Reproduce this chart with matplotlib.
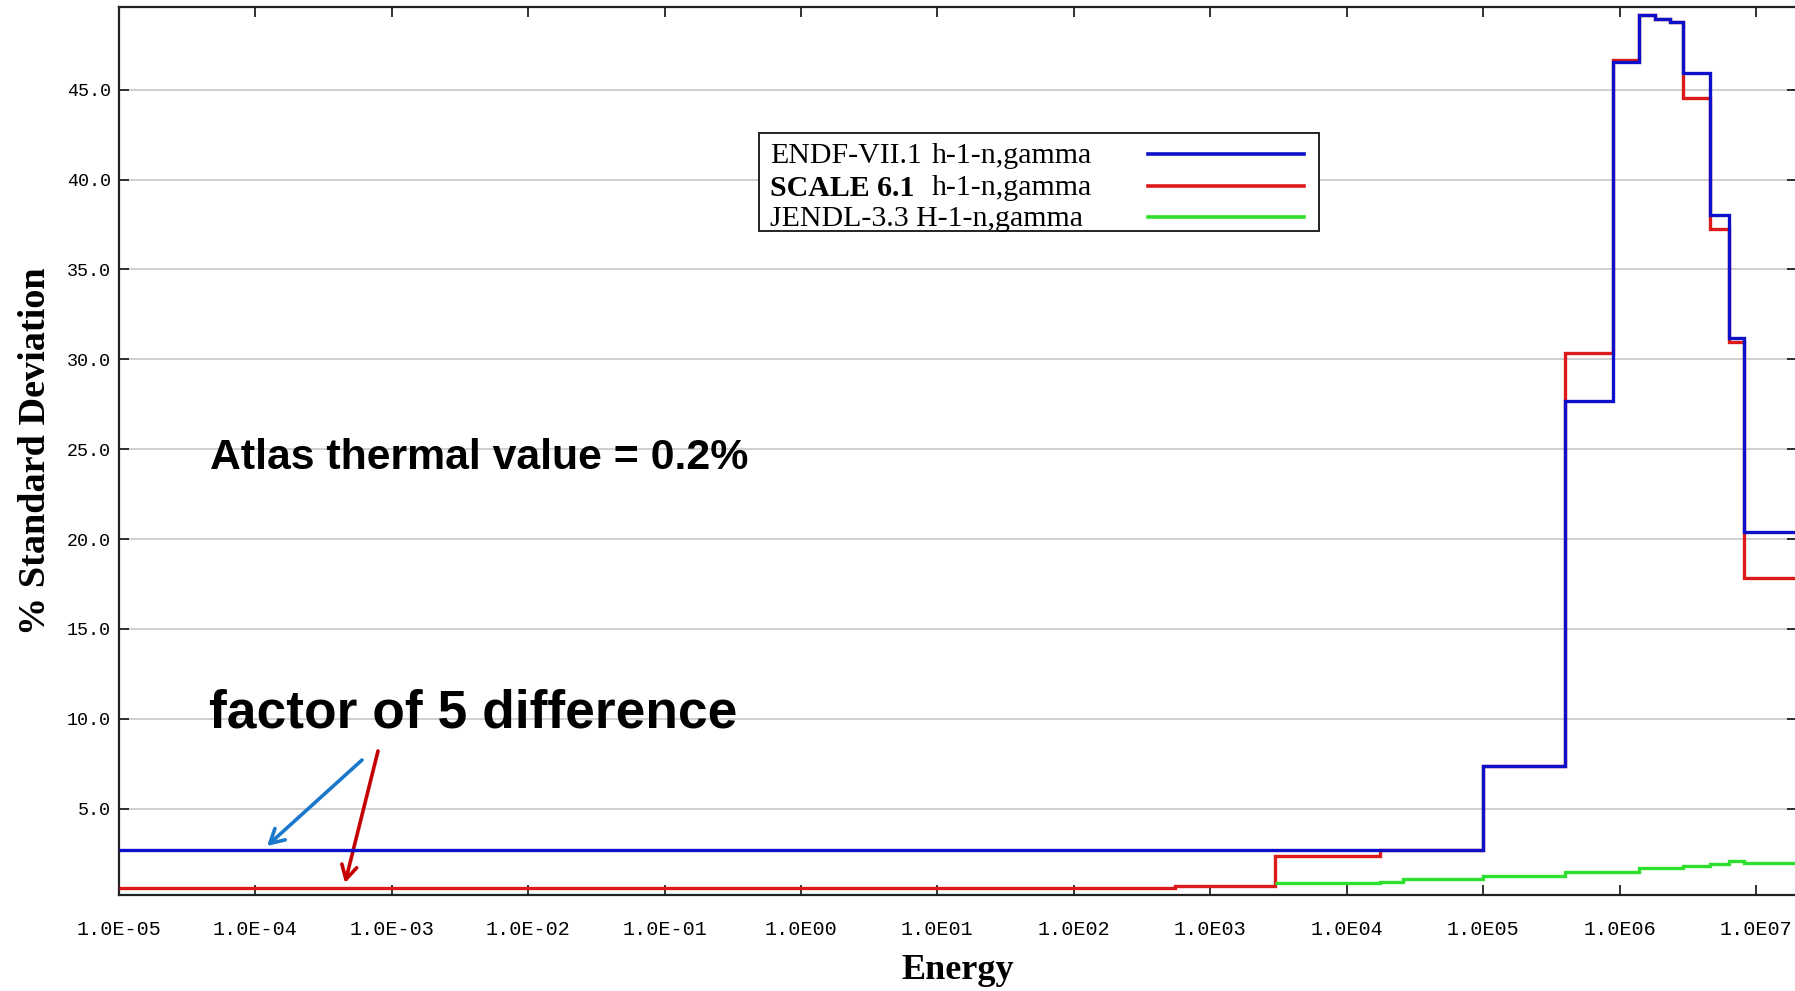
import matplotlib
matplotlib.use("Agg")
import matplotlib.pyplot as plt
from matplotlib.lines import Line2D
from matplotlib.patches import Rectangle
import numpy as np

# ---------------- data ----------------
endf_edges = [1e-5, 1e5, 4.0e5, 8.93e5, 1.39e6, 1.82e6, 2.35e6, 2.93e6, 4.62e6, 6.37e6, 8.2e6, 2e7]
endf_vals = [2.68, 7.35, 27.7, 46.55, 49.15, 48.95, 48.75, 45.95, 38.05, 31.2, 20.4]

scale_edges = [1e-5, 547, 3.0e3, 1.75e4, 1e5, 4.0e5, 8.93e5, 1.39e6, 1.82e6, 2.35e6, 2.93e6, 4.62e6, 6.37e6, 8.2e6, 2e7]
scale_vals = [0.6, 0.72, 2.35, 2.68, 7.35, 30.35, 46.65, 49.15, 48.95, 48.75, 44.55, 37.25, 30.95, 17.85]

jendl_edges = [3.0e3, 1.75e4, 2.58e4, 1e5, 4.0e5, 1.39e6, 2.93e6, 4.62e6, 6.37e6, 8.2e6, 2e7]
jendl_vals = [0.87, 0.94, 1.07, 1.28, 1.46, 1.68, 1.83, 1.92, 2.11, 2.0]

xtick_vals = [1e-5, 1e-4, 1e-3, 1e-2, 1e-1, 1e0, 1e1, 1e2, 1e3, 1e4, 1e5, 1e6, 1e7]
xtick_labels = ["1.0E-05", "1.0E-04", "1.0E-03", "1.0E-02", "1.0E-01", "1.0E00",
                "1.0E01", "1.0E02", "1.0E03", "1.0E04", "1.0E05", "1.0E06", "1.0E07"]
ytick_vals = [5, 10, 15, 20, 25, 30, 35, 40, 45]
ytick_labels = ["5.0", "10.0", "15.0", "20.0", "25.0", "30.0", "35.0", "40.0", "45.0"]

legend_labels = [("ENDF-VII.1", "h-1-n,gamma"), ("SCALE 6.1", "h-1-n,gamma"), ("JENDL-3.3 H-1-n,gamma", "")]

BLUE = "#0c10c8"
RED = "#dc1a1a"
GREEN = "#2ee02e"

W, H = 1795, 991
fig = plt.figure(figsize=(W / 100, H / 100), dpi=100)
fig.patch.set_facecolor("white")

def fx(x):
    return x / W

def fy(y):
    return 1 - y / H

ax = fig.add_axes([fx(119), fy(895), fx(1797) - fx(119), fy(7) - fy(895)])
ax.set_xscale("log")
ax.set_xlim(1e-5, 2e7)
ax.set_ylim(0.2, 49.6)

lw = 2.4
ax.stairs(scale_vals, scale_edges, baseline=None, color=RED, lw=lw, zorder=3)
ax.stairs(jendl_vals, jendl_edges, baseline=None, color=GREEN, lw=lw, zorder=3)
ax.stairs(endf_vals, endf_edges, baseline=None, color=BLUE, lw=lw, zorder=4)

ax.set_xticks(xtick_vals)
ax.set_xticklabels(xtick_labels, family="Liberation Mono", fontsize=14.5)
ax.xaxis.set_minor_locator(matplotlib.ticker.NullLocator())
ax.set_yticks(ytick_vals)
ax.set_yticklabels(ytick_labels, family="Liberation Mono", fontsize=13.2)
ax.tick_params(axis="x", which="major", direction="in", length=7, width=1.3,
               top=True, bottom=True, pad=18, color="#222222")
ax.tick_params(axis="y", which="major", direction="in", length=7, width=1.3,
               left=True, right=True, pad=6, color="#222222")
ax.grid(axis="y", color="#cccccc", lw=1.3, zorder=0)
ax.set_axisbelow(True)
for s in ax.spines.values():
    s.set_linewidth(1.6)
    s.set_color("#222222")

ax.set_xlabel("Energy", family="Liberation Serif", fontweight="bold", fontsize=26, labelpad=11)
ax.set_ylabel("% Standard Deviation", family="Liberation Serif", fontweight="bold", fontsize=27.5, labelpad=10)

# ---------------- legend (drawn manually) ----------------
fig.patches.append(Rectangle((fx(759), fy(231)), fx(1319) - fx(759), fy(133) - fy(231),
                             transform=fig.transFigure, fill=True, facecolor="white",
                             edgecolor="#222222", lw=1.4, zorder=5))
leg_y = [156, 188, 219]
leg_colors = [BLUE, RED, GREEN]
for i, ((a, b), c) in enumerate(zip(legend_labels, leg_colors)):
    weight = "bold" if i == 1 else "normal"
    fig.text(fx(770), fy(leg_y[i]), a, family="Liberation Serif", fontsize=21.5,
             fontweight=weight, va="center", ha="left", zorder=6)
    if b:
        fig.text(fx(932), fy(leg_y[i]), b, family="Liberation Serif", fontsize=21.5,
                 va="center", ha="left", zorder=6)
    fig.lines.append(Line2D([fx(1148), fx(1304)], [fy(leg_y[i] - 2), fy(leg_y[i] - 2)],
                            transform=fig.transFigure, color=c, lw=2.6, zorder=6))

# ---------------- annotations ----------------
fig.text(fx(210), fy(469), "Atlas thermal value = 0.2%", family="Liberation Sans",
         fontweight="bold", fontsize=30.8, va="baseline", ha="left")
fig.text(fx(209), fy(728), "factor of 5 difference", family="Liberation Sans",
         fontweight="bold", fontsize=38.4, va="baseline", ha="left")

ax.annotate("", xy=(267, H - 846), xycoords="figure pixels",
            xytext=(362, H - 760), textcoords="figure pixels",
            arrowprops=dict(arrowstyle="->,head_length=1.0,head_width=0.55",
                            color="#1a78cc", lw=2.6, shrinkA=0, shrinkB=0))
ax.annotate("", xy=(345, H - 883), xycoords="figure pixels",
            xytext=(378, H - 751), textcoords="figure pixels",
            arrowprops=dict(arrowstyle="->,head_length=1.0,head_width=0.55",
                            color="#c40000", lw=2.6, shrinkA=0, shrinkB=0))

fig.savefig("out.png", dpi=100, facecolor="white")
